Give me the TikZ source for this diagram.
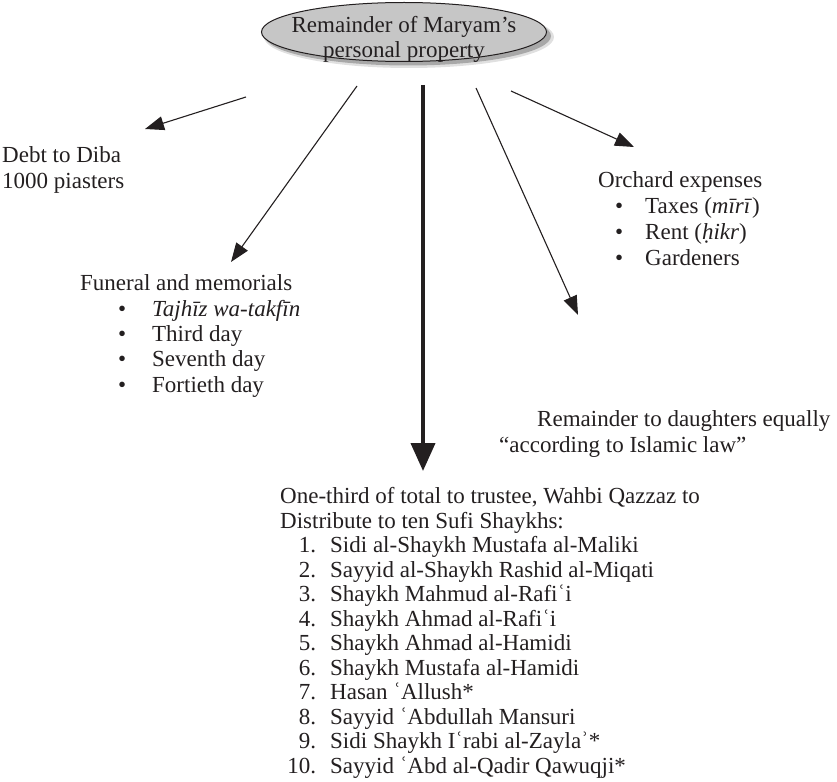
\documentclass[tikz,border=0pt]{standalone}
\usepackage{fontspec}
\setmainfont{Liberation Serif}
\usetikzlibrary{arrows.meta,shadows,shapes.geometric}
\definecolor{ellgray}{RGB}{198,198,198}
\definecolor{ink}{RGB}{35,31,32}
\newcommand\fb[1]{\hspace*{38pt}\makebox[34pt][l]{\textbullet}#1}
\newcommand\ob[1]{\hspace*{17pt}\makebox[30pt][l]{\textbullet}#1}
\newcommand\nb[2]{\makebox[36pt][r]{#1}\hspace*{14pt}#2}
\begin{document}
\begin{tikzpicture}[x=1pt,y=-1pt,
  lbl/.style={font=\fontsize{23}{25.5}\selectfont, text=ink, inner sep=0pt, align=left, anchor=base west},
  thinarrow/.style={draw=ink, line width=1.1pt, -{Triangle[length=19pt,width=14pt]}},
  bigarrow/.style={draw=ink, line width=4pt, -{Triangle[length=28pt,width=24pt]}}]
\useasboundingbox (0,0) rectangle (837,781);
% central ellipse with soft shadow
\fill[black, opacity=0.12] (409,37) ellipse [x radius=145pt, y radius=31pt];
\fill[black, opacity=0.25] (408,36) ellipse [x radius=143pt, y radius=29.5pt];
\node[ellipse, draw=ink, line width=1pt, fill=ellgray, minimum width=285pt, minimum height=59pt,
  inner sep=0pt] (root) at (404,32) {};
\node[lbl, align=center, anchor=base] (title) at (404,58)
  {Remainder of Maryam’s\\personal property};
% text blocks (anchor = baseline of last line)
\node[lbl, font=\fontsize{23}{26}\selectfont] (debt) at (2,188) {Debt to Diba\\1000 piasters};
\node[lbl, font=\fontsize{23}{25.3}\selectfont] (fun) at (80,392) {Funeral and memorials\\\fb{\textit{Tajhīz wa-takfīn}}\\\fb{Third day}\\\fb{Seventh day}\\\fb{Fortieth day}};
\node[lbl, font=\fontsize{23}{26}\selectfont] (orch) at (598,265) {Orchard expenses\\\ob{Taxes (\textit{mīrī})}\\\ob{Rent (\textit{ḥikr})}\\\ob{Gardeners}};
\node[lbl, font=\fontsize{23}{26}\selectfont] (daugh) at (499,452) {\hspace*{38pt}Remainder to daughters equally\\“according to Islamic law”};
\node[lbl, font=\fontsize{23}{24.5}\selectfont] (third) at (280,773) {One-third of total to trustee, Wahbi Qazzaz to\\Distribute to ten Sufi Shaykhs:\\
\nb{1.}{Sidi al-Shaykh Mustafa al-Maliki}\\
\nb{2.}{Sayyid al-Shaykh Rashid al-Miqati}\\
\nb{3.}{Shaykh Mahmud al-Rafiʿi}\\
\nb{4.}{Shaykh Ahmad al-Rafiʿi}\\
\nb{5.}{Shaykh Ahmad al-Hamidi}\\
\nb{6.}{Shaykh Mustafa al-Hamidi}\\
\nb{7.}{Hasan ʿAllush*}\\
\nb{8.}{Sayyid ʿAbdullah Mansuri}\\
\nb{9.}{Sidi Shaykh Iʿrabi al-Zaylaʾ*}\\
\nb{10.}{Sayyid ʿAbd al-Qadir Qawuqji*}};
% connectors
\coordinate (s1) at (246,97);  \coordinate (e1) at (145,129);
\coordinate (s2) at (357,86);  \coordinate (e2) at (231,262);
\coordinate (s3) at (423,85);  \coordinate (e3) at (423,471);
\coordinate (s4) at (476,88);  \coordinate (e4) at (578,315);
\coordinate (s5) at (511,91);  \coordinate (e5) at (634,147);
\draw[thinarrow] (s1) -- (e1);
\draw[thinarrow] (s2) -- (e2);
\draw[bigarrow] (s3) -- (e3);
\draw[thinarrow] (s4) -- (e4);
\draw[thinarrow] (s5) -- (e5);
\end{tikzpicture}
\end{document}
